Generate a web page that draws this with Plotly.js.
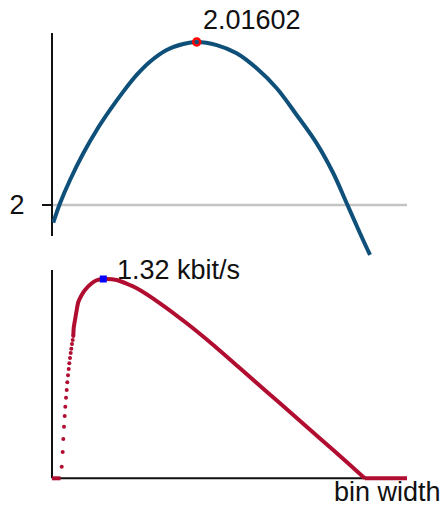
<!DOCTYPE html>
<html>
<head>
<meta charset="utf-8">
<script src="https://cdn.plot.ly/plotly-3.0.1.min.js"></script>
<style>
  html, body { margin: 0; padding: 0; background: #fff; }
  #chart { width: 444px; height: 510px; }
</style>
</head>
<body>
<div id="chart"></div>
<script>
// Upper panel: quantity versus bin width, with its maximum marked
const topBinWidth = [0.18, 1.13, 2.54, 4.41, 6.30, 8.17, 10.04, 11.93, 13.80, 16.15, 18.49,
                     20.38, 23.20, 26.01, 28.83, 31.65, 34.46, 37.28, 39.62, 41.51, 43.38, 44.79];
const topValue = [1.99826, 2.00017, 2.00246, 2.00508, 2.00737, 2.00934, 2.01114, 2.01278, 2.01408,
                  2.01523, 2.01582, 2.01602, 2.01572, 2.01491, 2.01343, 2.01147, 2.00885, 2.00606,
                  2.00312, 2.00017, 1.99722, 1.99509];
const topPeakX = 20.38;
const topPeakY = 2.01602;
const topRefLevel = 2;
const topTickVals = [2];

// Lower panel: information rate (kbit/s) versus bin width
// steep rising samples drawn as separate dots
const rateRiseX = [1.366, 1.507, 1.592, 1.690, 1.789, 1.873, 1.972, 2.070, 2.155, 2.254, 2.352,
                   2.437, 2.535, 2.634, 2.718, 2.817, 2.915, 3.000];
const rateRiseY = [0.0768, 0.1742, 0.2603, 0.3417, 0.4126, 0.4742, 0.5338, 0.5848, 0.6358, 0.6822,
                   0.7239, 0.7616, 0.7967, 0.8299, 0.8583, 0.8895, 0.9160, 0.9424];
const rateX = [3.000, 3.056, 3.141, 3.239, 3.479, 3.704, 4.183, 4.648, 5.592, 6.197, 7.23,
               9.11, 11.93, 15.21, 18.97, 22.72, 26.48, 30.24, 33.99, 37.75, 41.51, 44.04];
const rateY = [0.9424, 0.9954, 1.0219, 1.0484, 1.1147, 1.1676, 1.2140, 1.2471, 1.2915, 1.3100, 1.32,
               1.3133, 1.2584, 1.1590, 1.0266, 0.8828, 0.7285, 0.5735, 0.4192, 0.2636, 0.1080, 0];
// zero-rate stretches at both ends
const rateZeroX = [0, 1.2, null, 44.04, 50];
const rateZeroY = [0, 0, null, 0, 0];
const ratePeakX = 7.23;
const ratePeakY = 1.32;
const rateUnit = 'kbit/s';
const xAxisLabel = 'bin width';

const blue = '#0e5079';
const red = '#b10d30';
const FONT = '"Liberation Sans", Arial, sans-serif';
const FS = 27;

const traces = [
  { x: topBinWidth, y: topValue, xaxis: 'x', yaxis: 'y', mode: 'lines',
    line: { color: blue, width: 4, shape: 'spline', smoothing: 1 }, hoverinfo: 'skip' },
  { x: [topPeakX], y: [topPeakY], xaxis: 'x', yaxis: 'y', mode: 'markers', cliponaxis: false,
    marker: { symbol: 'circle-open', size: 7, color: '#ff0000', line: { width: 2.5, color: '#ff0000' } } },

  { x: rateZeroX, y: rateZeroY, xaxis: 'x2', yaxis: 'y2', mode: 'lines', cliponaxis: false,
    line: { color: red, width: 4 } },
  { x: rateRiseX, y: rateRiseY, xaxis: 'x2', yaxis: 'y2', mode: 'markers', cliponaxis: false,
    marker: { color: red, size: 4 } },
  { x: rateX, y: rateY, xaxis: 'x2', yaxis: 'y2', mode: 'lines',
    line: { color: red, width: 4, shape: 'spline', smoothing: 0.6 } },
  { x: [ratePeakX], y: [ratePeakY], xaxis: 'x2', yaxis: 'y2', mode: 'markers', cliponaxis: false,
    marker: { symbol: 'square', size: 7, color: '#0000ff' } }
];

const layout = {
  width: 444, height: 510,
  margin: { l: 52, r: 37, t: 0, b: 0 },
  paper_bgcolor: '#fff', plot_bgcolor: 'rgba(0,0,0,0)',
  showlegend: false,
  font: { family: FONT, size: FS, color: '#111' },
  xaxis: { domain: [0, 1], range: [0, 50], visible: false, anchor: 'y' },
  yaxis: {
    domain: [0.49412, 0.93529], range: [1.994791, 2.016904], anchor: 'x',
    showgrid: false, zeroline: false, showline: false,
    tickmode: 'array', tickvals: topTickVals, ticktext: topTickVals.map(String),
    ticks: 'outside', ticklen: 9, tickwidth: 2, tickcolor: '#111',
    ticklabelstandoff: 12, tickfont: { size: FS, family: FONT, color: '#111' }
  },
  xaxis2: { domain: [0, 1], range: [0, 50], visible: false, anchor: 'y2' },
  yaxis2: { domain: [0.05490, 0.47059], range: [-0.0245, 1.3796], anchor: 'x2', visible: false },
  shapes: [
    // reference level in the upper panel
    { type: 'line', layer: 'below', xref: 'x domain', x0: 0, x1: 1, yref: 'y', y0: topRefLevel, y1: topRefLevel,
      line: { color: '#c4c4c4', width: 2.5 } },
    // upper vertical axis
    { type: 'line', layer: 'below', xref: 'x domain', x0: 0, x1: 0, yref: 'y domain', y0: 0.0978, y1: 1,
      line: { color: '#111', width: 2 } },
    // lower axes
    { type: 'line', layer: 'below', xref: 'x2 domain', x0: 0, x1: 0, yref: 'y2', y0: 0, y1: 1.3796,
      line: { color: '#111', width: 2 } },
    { type: 'line', layer: 'below', xref: 'x2 domain', x0: 0, x1: 1, yref: 'y2', y0: 0, y1: 0,
      line: { color: '#111', width: 2 } }
  ],
  annotations: [
    { xref: 'x', yref: 'y', x: topPeakX, y: topPeakY, text: String(topPeakY),
      showarrow: false, xanchor: 'left', yanchor: 'bottom', xshift: 4, yshift: 5,
      font: { size: FS, family: FONT, color: '#111' } },
    { xref: 'x2', yref: 'y2', x: ratePeakX, y: ratePeakY, text: ratePeakY.toFixed(2) + ' ' + rateUnit,
      showarrow: false, xanchor: 'left', yanchor: 'bottom', xshift: 12, yshift: -8,
      font: { size: FS, family: FONT, color: '#111' } },
    { xref: 'paper', yref: 'paper', x: 1.1014, y: 0.002, text: xAxisLabel,
      showarrow: false, xanchor: 'right', yanchor: 'bottom',
      font: { size: FS, family: FONT, color: '#111' } }
  ]
};

Plotly.newPlot('chart', traces, layout, { displayModeBar: false, staticPlot: true });
</script>
</body>
</html>
